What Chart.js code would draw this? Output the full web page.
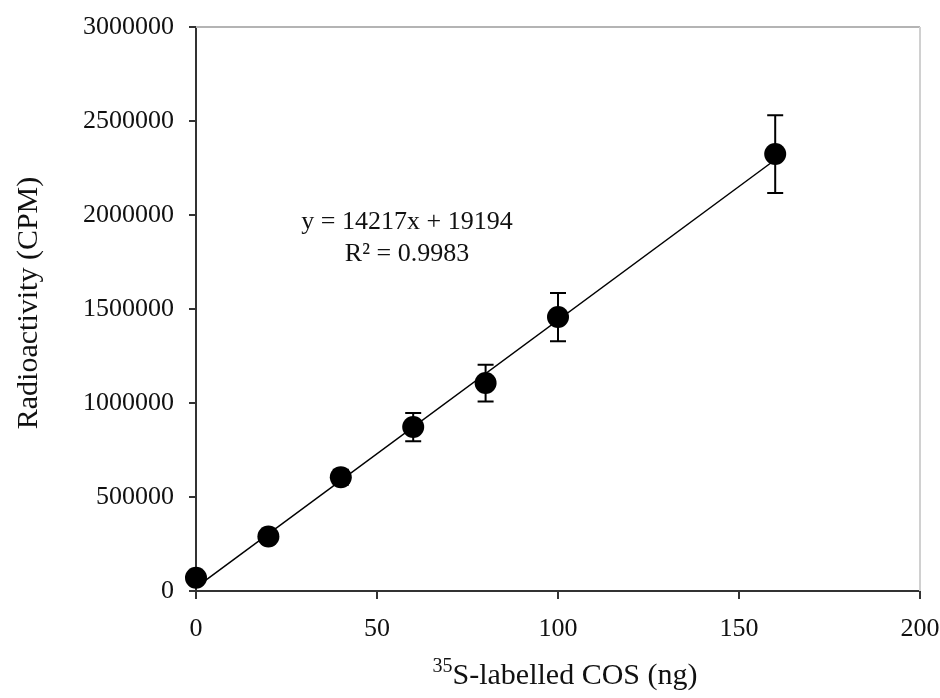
<!DOCTYPE html>
<html>
<head>
<meta charset="utf-8">
<script src="https://cdn.jsdelivr.net/npm/chart.js@4.4.1/dist/chart.umd.min.js"></script>
<style>
html,body{margin:0;padding:0;background:#fff;}
#wrap{width:940px;height:698px;position:relative;}
</style>
</head>
<body>
<div id="wrap"><canvas id="c" width="940" height="698"></canvas></div>
<script>
// Data
const xValues = [0, 20, 40, 60, 80, 100, 160];
const yValues = [70000, 290000, 605000, 872000, 1106000, 1457000, 2324000];
const yErrors = [10000, 20000, 40000, 75000, 98000, 128000, 207000];
const trendSlope = 14217;
const trendIntercept = 19194;
const trendX = [0, 160];
const equationText = "y = 14217x + 19194";
const r2Text = "R² = 0.9983";
const xTitleSup = "35";
const xTitleMain = "S-labelled COS (ng)";
const yTitle = "Radioactivity (CPM)";

const FONT = "'Liberation Serif', 'Times New Roman', serif";

const points = xValues.map((x, i) => ({x: x, y: yValues[i]}));
const trend = trendX.map(x => ({x: x, y: trendSlope * x + trendIntercept}));

const decorPlugin = {
  id: 'decor',
  beforeDatasetsDraw(chart) {
    const ctx = chart.ctx, a = chart.chartArea;
    ctx.save();
    ctx.strokeStyle = '#b4b4b4';
    ctx.lineWidth = 2;
    ctx.beginPath();
    ctx.moveTo(a.left, a.top);
    ctx.lineTo(a.right, a.top);
    ctx.stroke();
    ctx.strokeStyle = '#d0d0d0';
    ctx.beginPath();
    ctx.moveTo(a.right, a.top);
    ctx.lineTo(a.right, a.bottom);
    ctx.stroke();
    ctx.restore();
  },
  afterDatasetsDraw(chart) {
    const ctx = chart.ctx;
    const xs = chart.scales.x, ys = chart.scales.y;
    ctx.save();
    ctx.strokeStyle = '#000';
    ctx.lineWidth = 2;
    xValues.forEach((x, i) => {
      const px = xs.getPixelForValue(x);
      const top = ys.getPixelForValue(yValues[i] + yErrors[i]);
      const bot = ys.getPixelForValue(yValues[i] - yErrors[i]);
      ctx.beginPath();
      ctx.moveTo(px, top); ctx.lineTo(px, bot);
      ctx.moveTo(px - 8, top); ctx.lineTo(px + 8, top);
      ctx.moveTo(px - 8, bot); ctx.lineTo(px + 8, bot);
      ctx.stroke();
    });
    ctx.restore();
  },
  afterDraw(chart) {
    const ctx = chart.ctx, a = chart.chartArea;
    ctx.save();
    ctx.fillStyle = '#111';
    ctx.font = "26px " + FONT;
    ctx.textAlign = 'center';
    ctx.textBaseline = 'middle';
    ctx.fillText(equationText, 407, 222);
    ctx.fillText(r2Text, 407, 254);
    ctx.font = "30px " + FONT;
    ctx.save();
    ctx.translate(29, 303);
    ctx.rotate(-Math.PI / 2);
    ctx.fillText(yTitle, 0, 0);
    ctx.restore();
    ctx.font = "30px " + FONT;
    const wMain = ctx.measureText(xTitleMain).width;
    ctx.font = "20px " + FONT;
    const wSup = ctx.measureText(xTitleSup).width;
    const total = wMain + wSup;
    const startX = 565 - total / 2;
    ctx.textAlign = 'left';
    ctx.textBaseline = 'alphabetic';
    ctx.font = "20px " + FONT;
    ctx.fillText(xTitleSup, startX, 672);
    ctx.font = "30px " + FONT;
    ctx.fillText(xTitleMain, startX + wSup, 684);
    ctx.restore();
  }
};

new Chart(document.getElementById('c'), {
  type: 'scatter',
  data: {
    datasets: [
      {
        type: 'line',
        data: trend,
        borderColor: '#000',
        borderWidth: 1.5,
        pointRadius: 0,
        fill: false,
        clip: false,
        order: 2
      },
      {
        data: points,
        backgroundColor: '#000',
        borderColor: '#000',
        borderWidth: 0,
        pointRadius: 11,
        pointHoverRadius: 11,
        clip: false,
        order: 1
      }
    ]
  },
  options: {
    responsive: false,
    animation: false,
    events: [],
    layout: {padding: {top: 27, right: 20, left: 0, bottom: 0}},
    plugins: {legend: {display: false}, tooltip: {enabled: false}},
    scales: {
      x: {
        type: 'linear',
        min: 0, max: 200,
        ticks: {stepSize: 50, color: '#111', font: {family: FONT, size: 26}, padding: 15, maxRotation: 0,
                callback: v => String(v)},
        grid: {drawOnChartArea: false, drawTicks: true, tickLength: 8, color: '#333', lineWidth: 2},
        border: {color: '#333', width: 2},
        afterFit(s) { s.height = 107; s.paddingLeft = 0; s.paddingRight = 0; }
      },
      y: {
        type: 'linear',
        min: 0, max: 3000000,
        ticks: {stepSize: 500000, color: '#111', font: {family: FONT, size: 26}, padding: 15,
                callback: v => String(v)},
        grid: {drawOnChartArea: false, drawTicks: true, tickLength: 7, color: '#333', lineWidth: 2},
        border: {color: '#333', width: 2},
        afterFit(s) { s.width = 196; s.paddingTop = 0; s.paddingBottom = 0; }
      }
    }
  },
  plugins: [decorPlugin]
});
</script>
</body>
</html>
